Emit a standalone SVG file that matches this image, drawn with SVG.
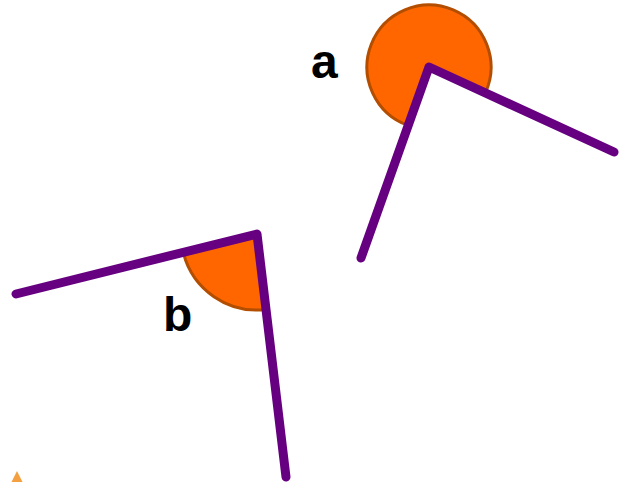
<svg xmlns="http://www.w3.org/2000/svg" width="627" height="482" viewBox="0 0 627 482">
<style>
.wedge{fill:#ff6600;stroke:#b34d00;stroke-width:3;stroke-linejoin:round}
.ray{fill:none;stroke:#660080;stroke-width:9;stroke-linecap:round;stroke-linejoin:round}
.lbl{font-family:"Liberation Sans",Arial,sans-serif;font-weight:bold;font-size:48px;fill:#000}
</style>
<rect width="627" height="482" fill="#fff"/>
<g id="angle-a">
<path class="wedge" d="M429,67 L485.3,92.9 A62,62 0 1 0 408.2,125.4 Z"/>
<polyline class="ray" points="614,152 429,67 361,258"/>
<text class="lbl" x="311" y="78">a</text>
</g>
<g id="angle-b">
<path class="wedge" d="M257,234 L183.3,252.6 A76,76 0 0 0 266,309.5 Z"/>
<polyline class="ray" points="16,294 257,234 286,477"/>
<text class="lbl" x="163" y="331">b</text>
</g>
<g id="marker-triangle">
<polygon points="11,483 17,471 23,483" fill="#f4a040"/>
</g>
</svg>
